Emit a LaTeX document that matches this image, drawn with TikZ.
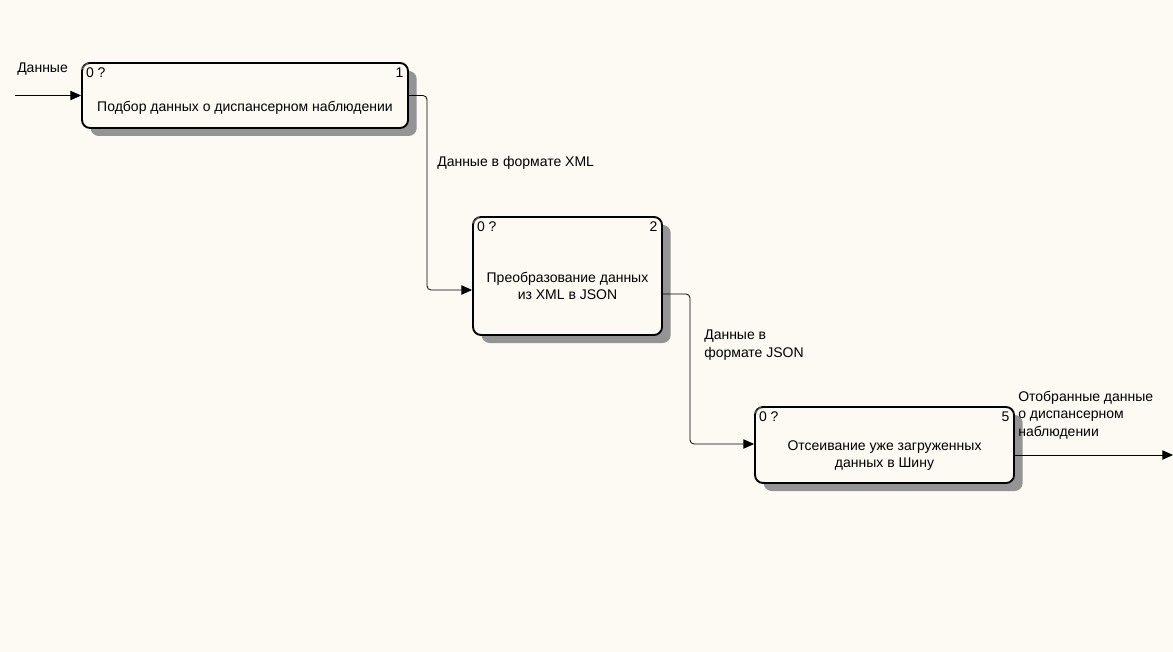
\documentclass[tikz,border=0pt]{standalone}
\usepackage{fontspec}
\setmainfont{Liberation Sans}
\usetikzlibrary{positioning,arrows.meta,shadows,patterns}
\definecolor{bgcream}{RGB}{253,250,243}
\tikzset{
    >={Triangle[length=8pt,width=7pt]},
    every edge/.style={draw,->,semithick}
}

\begin{document}
\begin{tikzpicture}[x=0.75pt,y=-0.75pt,
                    font=\fontsize{10.5}{13}\selectfont,
                    box/.style={draw,line width=1.4pt,rounded corners=6pt,fill=bgcream,
                        general shadow={shadow xshift=6.5pt,shadow yshift=-6pt,
                            fill=black!42}},
                    boxtext/.style={align=center,inner sep=0pt},
                    corner/.style={inner sep=0pt},
                    flow/.style={draw,->,semithick,rounded corners=3pt},
                    lbl/.style={align=left,inner sep=0pt,anchor=west}]

\fill[bgcream] (0,0) rectangle (1173,652);
\useasboundingbox (0,0) rectangle (1173,652);

% Boxes
\node[box,minimum width=244.5pt,minimum height=48.75pt] (b1) at (245,95.5) {};
\node[box,minimum width=141.75pt,minimum height=88.5pt] (b2) at (567.5,276) {};
\node[box,minimum width=194.25pt,minimum height=57pt] (b3) at (884.5,445) {};

\node[boxtext] (t1) at ([yshift=-9pt]b1.center) {Подбор данных о диспансерном наблюдении};
\node[boxtext] (t2) at ([yshift=-7.5pt]b2.center) {Преобразование данных\\из XML в JSON};
\node[boxtext] (t3) at ([yshift=-8pt]b3.center) {Отсеивание уже загруженных\\данных в Шину};

\node[corner,anchor=north west] (z1) at ([xshift=3.5pt,yshift=-4pt]b1.north west) {0 ?};
\node[corner,anchor=north east] (n1) at ([xshift=-4pt,yshift=-4pt]b1.north east) {1};
\node[corner,anchor=north west] (z2) at ([xshift=3.5pt,yshift=-4pt]b2.north west) {0 ?};
\node[corner,anchor=north east] (n2) at ([xshift=-4pt,yshift=-4pt]b2.north east) {2};
\node[corner,anchor=north west] (z3) at ([xshift=3.5pt,yshift=-4pt]b3.north west) {0 ?};
\node[corner,anchor=north east] (n3) at ([xshift=-4pt,yshift=-4pt]b3.north east) {5};

\foreach \b in {b1,b2,b3}
  \draw[gray,line width=0.5pt] ([xshift=0.6pt,yshift=-5pt]\b.north west) -- ([xshift=5pt,yshift=-0.6pt]\b.north west);

% Points
\coordinate (in1) at (15,95.5);
\coordinate (k1) at (427,95.5);
\coordinate (k2) at (427,290);
\coordinate (k3) at (690,294);
\coordinate (k4) at (690,444);
\coordinate (out3) at (1173,455);

% Arrows
\draw[flow] (in1) -- (b1.west);
\draw[flow] (b1.east) -- (k1) -- (k2) -- (k2 -| b2.west);
\draw[flow] (b2.east |- k3) -- (k3) -- (k4) -- (k4 -| b3.west);
\draw[flow] (b3.east |- out3) -- (out3);

% Labels
\node[lbl] (l1) at (17,69) {Данные};
\node[lbl] (l2) at (437,163) {Данные в формате XML};
\node[lbl] (l3) at (704,345) {Данные в\\формате JSON};
\node[lbl] (l4) at (1018,415) {Отобранные данные\\о диспансерном\\наблюдении};

\end{tikzpicture}
\end{document}
